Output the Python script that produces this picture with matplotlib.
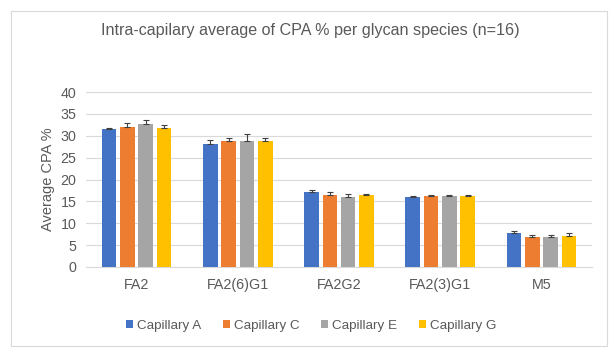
import matplotlib
matplotlib.use("Agg")
import matplotlib.pyplot as plt
from matplotlib.patches import Rectangle
import numpy as np

plt.rcParams['font.family'] = ['Liberation Sans', 'DejaVu Sans']

categories = ["FA2", "FA2(6)G1", "FA2G2", "FA2(3)G1", "M5"]
series_names = ["Capillary A", "Capillary C", "Capillary E", "Capillary G"]
cap_a = [31.5, 28.2, 17.1, 15.9, 7.7]
cap_c = [32.1, 28.7, 16.5, 16.2, 6.9]
cap_e = [32.8, 28.7, 15.9, 16.2, 6.9]
cap_g = [31.8, 28.7, 16.5, 16.2, 7.1]
err_a = [0.3, 0.9, 0.4, 0.35, 0.45]
err_c = [0.7, 0.9, 0.6, 0.3, 0.5]
err_e = [0.7, 1.6, 0.7, 0.3, 0.5]
err_g = [0.6, 0.7, 0.3, 0.3, 0.6]
yticks = [0, 5, 10, 15, 20, 25, 30, 35, 40]

values = [cap_a, cap_c, cap_e, cap_g]
errors = [err_a, err_c, err_e, err_g]
colors = ["#4472C4", "#ED7D31", "#A5A5A5", "#FFC000"]
txt = "#595959"

fig = plt.figure(figsize=(6.16, 3.54), dpi=100)
fig.patches.append(Rectangle((10.5/616, 1 - 345.5/354), (607-10.5)/616, (345.5-10.5)/354,
                             transform=fig.transFigure, fill=False, edgecolor="#D9D9D9", lw=0.8))
ax = fig.add_axes([86/616, 1 - 267/354, (592-86)/616, (267-92)/354])

x = np.arange(len(categories))
step = 0.181
width = 0.145
for i, (vals, errs, c, name) in enumerate(zip(values, errors, colors, series_names)):
    pos = x + (i - 1.5) * step
    ax.bar(pos, vals, width=width, color=c, label=name, zorder=3)
    ax.errorbar(pos, vals, yerr=[np.zeros(len(errs)), errs], fmt='none',
                ecolor="#404040", elinewidth=0.8, capsize=2.3, capthick=0.8, zorder=4)

ax.set_xlim(-0.5, len(categories) - 0.5)
ax.set_ylim(0, 40)
ax.set_yticks(yticks)
ax.set_xticks(x)
ax.set_xticklabels(categories)
ax.yaxis.grid(True, color="#D9D9D9", lw=0.8, zorder=0)
ax.set_axisbelow(True)
for s in ["top", "right", "left"]:
    ax.spines[s].set_visible(False)
ax.spines["bottom"].set_color("#D9D9D9")
ax.spines["bottom"].set_linewidth(0.8)
ax.tick_params(axis="both", length=0, labelsize=10.3, colors=txt, pad=7)
ax.tick_params(axis="x", pad=8)
ax.set_ylabel("Average CPA %", fontsize=10.5, color=txt, labelpad=4)

fig.text(310/616, 1 - 30/354, "Intra-capilary average of CPA % per glycan species (n=16)",
         ha="center", va="center", fontsize=11.6, color=txt)

handles, labels = ax.get_legend_handles_labels()
fig.legend(handles, labels, loc="center", bbox_to_anchor=(311/616, 1 - 326/354), ncol=4,
           frameon=False, fontsize=9.6, labelcolor=txt, handlelength=0.55, handleheight=0.55,
           handletextpad=0.3, columnspacing=1.6)

fig.savefig("out.png", dpi=100)
